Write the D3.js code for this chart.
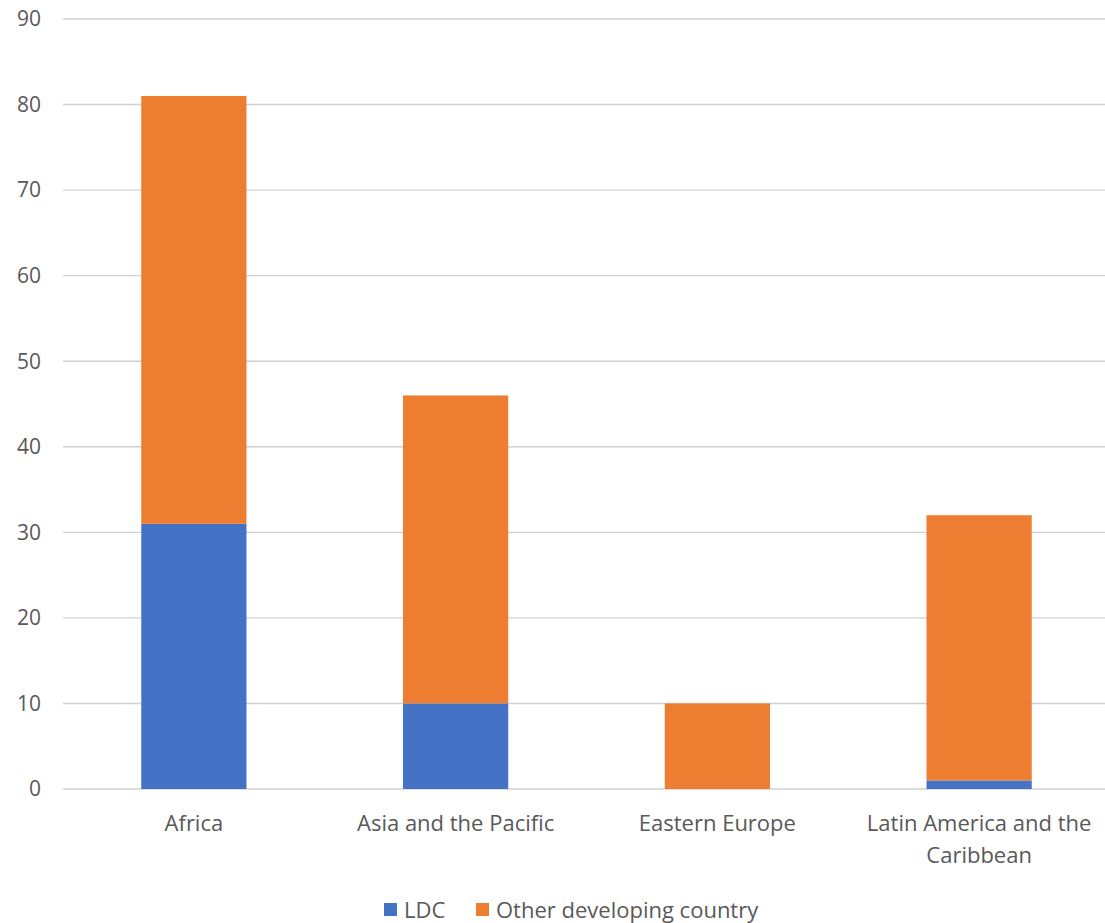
<!DOCTYPE html>
<html>
<head>
<meta charset="utf-8">
<script src="https://cdn.jsdelivr.net/npm/d3@7"></script>
<style>
  body { margin: 0; background: #fff; }
  text { font-family: "Open Sans", "Noto Sans", sans-serif; fill: #595959; }
</style>
</head>
<body>
<svg id="chart" width="1105" height="923"></svg>
<script>
// data
var regions = ["Africa", "Asia and the Pacific", "Eastern Europe", "Latin America and the Caribbean"];
var ldc = [31, 10, 0, 1];
var otherDev = [50, 36, 10, 31];
var seriesNames = ["LDC", "Other developing country"];
var seriesColors = ["#4472c4", "#ed7d31"];
var yTicks = [0, 10, 20, 30, 40, 50, 60, 70, 80, 90];

var svg = d3.select("#chart");

var x = d3.scaleBand()
    .domain(regions)
    .range([63, 1110])
    .paddingInner(0.598)
    .paddingOuter(0.299);

var y = d3.scaleLinear()
    .domain([0, 90])
    .range([789, 19]);

// gridlines
svg.append("g")
    .selectAll("line")
    .data(yTicks)
    .enter().append("line")
    .attr("x1", 63)
    .attr("x2", 1105)
    .attr("y1", function (d) { return y(d); })
    .attr("y2", function (d) { return y(d); })
    .attr("stroke", "#d0d0d0")
    .attr("stroke-width", 1.4);

// y tick labels
svg.append("g")
    .selectAll("text")
    .data(yTicks)
    .enter().append("text")
    .attr("x", 41)
    .attr("y", function (d) { return y(d); })
    .attr("dy", "0.35em")
    .attr("text-anchor", "end")
    .style("font-size", "21px")
    .text(function (d) { return d; });

// stacked bars
var rows = regions.map(function (r, i) {
    return { region: r, LDC: ldc[i], "Other developing country": otherDev[i] };
});
var stack = d3.stack().keys(seriesNames)(rows);

svg.append("g")
    .selectAll("g")
    .data(stack)
    .enter().append("g")
    .attr("fill", function (d, i) { return seriesColors[i]; })
    .selectAll("rect")
    .data(function (d) { return d; })
    .enter().append("rect")
    .attr("x", function (d) { return x(d.data.region); })
    .attr("width", x.bandwidth())
    .attr("y", function (d) { return y(d[1]); })
    .attr("height", function (d) { return y(d[0]) - y(d[1]); });

// category labels, wrapped like the original
var labelLines = {
    "Africa": ["Africa"],
    "Asia and the Pacific": ["Asia and the Pacific"],
    "Eastern Europe": ["Eastern Europe"],
    "Latin America and the Caribbean": ["Latin America and the", "Caribbean"]
};
var cats = svg.append("g")
    .selectAll("text")
    .data(regions)
    .enter().append("text")
    .attr("x", function (d) { return x(d) + x.bandwidth() / 2; })
    .attr("y", 831)
    .attr("text-anchor", "middle")
    .style("font-size", "22px");
cats.selectAll("tspan")
    .data(function (d) { return labelLines[d]; })
    .enter().append("tspan")
    .attr("x", function () { var r = d3.select(this.parentNode).datum(); return x(r) + x.bandwidth() / 2; })
    .attr("dy", function (d, i) { return i === 0 ? 0 : 32; })
    .text(function (d) { return d; });

// legend
var legendX = [384, 476];
var legend = svg.append("g")
    .selectAll("g")
    .data(seriesNames)
    .enter().append("g")
    .attr("transform", function (d, i) { return "translate(" + legendX[i] + ",903)"; });
legend.append("rect")
    .attr("width", 13)
    .attr("height", 13)
    .attr("fill", function (d, i) { return seriesColors[i]; });
legend.append("text")
    .attr("x", 20)
    .attr("y", 7)
    .attr("dy", "0.35em")
    .style("font-size", "22px")
    .text(function (d) { return d; });
</script>
</body>
</html>
